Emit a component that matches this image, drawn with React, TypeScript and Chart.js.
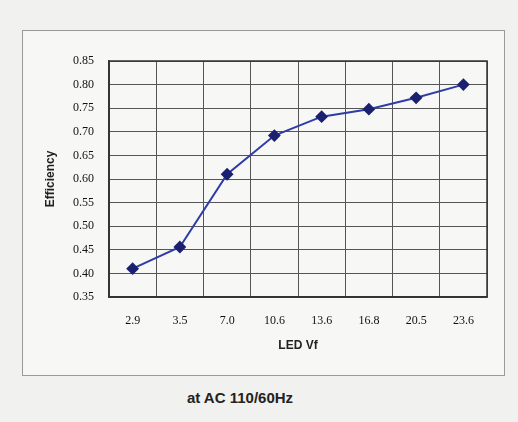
import React, { useEffect, useRef } from "react";
import { Chart, registerables } from "chart.js";

Chart.register(...registerables);

const categories = ["2.9", "3.5", "7.0", "10.6", "13.6", "16.8", "20.5", "23.6"];
const efficiency = [0.41, 0.456, 0.61, 0.692, 0.732, 0.748, 0.772, 0.8];
const yMin = 0.35;
const yMax = 0.85;
const yStep = 0.05;
const xTitle = "LED Vf";
const yTitle = "Efficiency";
const caption = "at AC 110/60Hz";

export default function App() {
  const ref = useRef<HTMLCanvasElement>(null);
  useEffect(() => {
    const chart = new Chart(ref.current!, {
      type: "line",
      data: {
        labels: categories,
        datasets: [
          {
            data: efficiency,
            borderColor: "#2f3ca6",
            borderWidth: 2,
            pointStyle: "rectRot",
            pointRadius: 5,
            pointBackgroundColor: "#1b2170",
            pointBorderColor: "#1b2170",
            tension: 0,
          },
        ],
      },
      options: {
        animation: false,
        responsive: false,
        layout: { padding: { left: 20, right: 17, top: 30, bottom: 22 } },
        plugins: { legend: { display: false }, tooltip: { enabled: false } },
        scales: {
          x: {
            offset: true,
            grid: { offset: true, color: "#555", lineWidth: 1, drawTicks: false },
            border: { color: "#333", width: 1.5 },
            ticks: { color: "#111", padding: 17, font: { family: "Liberation Serif", size: 12 } },
            title: {
              display: true,
              text: xTitle,
              color: "#222",
              font: { family: "Liberation Sans", size: 12, weight: "bold" },
              padding: { top: 5, bottom: 0 },
            },
            afterFit: (s: any) => {
              s.height = 56;
            },
          },
          y: {
            min: yMin,
            max: yMax,
            grid: { color: "#555", lineWidth: 1, drawTicks: false },
            border: { color: "#333", width: 1.5 },
            ticks: {
              stepSize: yStep,
              color: "#111",
              padding: 15,
              font: { family: "Liberation Serif", size: 12 },
              callback: (v: any) => Number(v).toFixed(2),
            },
            title: {
              display: true,
              text: yTitle,
              color: "#222",
              font: { family: "Liberation Sans", size: 12, weight: "bold" },
              padding: { top: 0, bottom: 0 },
            },
            afterFit: (s: any) => {
              s.width = 66;
            },
          },
        },
      },
      plugins: [
        {
          id: "border-top-right",
          afterDraw(c: any) {
            const { ctx, chartArea: a } = c;
            ctx.save();
            ctx.strokeStyle = "#333";
            ctx.lineWidth = 1.5;
            ctx.strokeRect(a.left, a.top, a.right - a.left, a.bottom - a.top);
            ctx.restore();
          },
        },
      ],
    });
    return () => chart.destroy();
  }, []);
  return (
    <div
      style={{
        position: "fixed",
        left: 0,
        top: 0,
        width: 518,
        height: 422,
        background: "#f1f1ef",
      }}
    >
      <div
        style={{
          position: "absolute",
          left: 22,
          top: 30,
          width: 483,
          height: 346,
          border: "1px solid #9a9a9a",
          background: "#f7f7f5",
          boxSizing: "border-box",
        }}
      >
        <canvas ref={ref} width={481} height={344} />
      </div>
      <div
        style={{
          position: "absolute",
          left: 0,
          width: 480,
          top: 389,
          textAlign: "center",
          fontFamily: "Liberation Sans",
          fontWeight: "bold",
          fontSize: 15,
          color: "#222",
        }}
      >
        {caption}
      </div>
    </div>
  );
}
